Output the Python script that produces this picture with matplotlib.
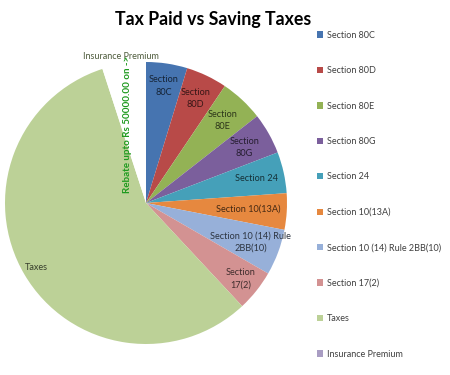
import matplotlib
matplotlib.use("Agg")
import matplotlib.pyplot as plt
import matplotlib.colors as mcolors
import numpy as np

categories = ["Section 80C", "Section 80D", "Section 80E", "Section 80G", "Section 24",
              "Section 10(13A)", "Section 10 (14) Rule 2BB(10)", "Section 17(2)", "Taxes",
              "Insurance Premium"]
slice_labels = ["Section\n80C", "Section\n80D", "Section\n80E", "Section\n80G", "Section 24",
                "Section 10(13A)", "Section 10 (14) Rule\n2BB(10)", "Section\n17(2)", "Taxes",
                "Insurance Premium"]
values = [17, 17, 18, 17, 17, 15, 19, 17, 205, 18]
colors = ["#4674b0", "#b84a48", "#93b255", "#7b5f9c", "#45a0b9", "#e6883f",
          "#97b0d9", "#d39292", "#bcd197", "#a99dc3"]
title = "Tax Paid vs Saving Taxes"
note = "Rebate upto Rs 50000.00 on ->"

plt.rcParams['font.family'] = ['Lato', 'DejaVu Sans']

fig = plt.figure(figsize=(4.5, 3.75), dpi=100)
ax = fig.add_axes([5/450, 31/375, 282/450, 282/375])

fills = list(colors)
fills[-1] = "white"  # Insurance Premium slice has no fill in the reference
wedges, _ = ax.pie(values, colors=fills, startangle=90, counterclock=False,
                   radius=1.0, wedgeprops=dict(linewidth=0))
ax.set_xlim(-1, 1)
ax.set_ylim(-1, 1)
ax.set_aspect('equal')
ax.axis('off')

label_r = [0.84, 0.82, 0.80, 0.80, 0.80, 0.73, 0.79, 0.86, 0.90, None]
total = sum(values)
cum = 0
for i, v in enumerate(values):
    mid = (cum + v / 2) / total * 360
    cum += v
    theta = np.deg2rad(90 - mid)
    if label_r[i] is None:
        continue
    c = np.array(mcolors.to_rgb(colors[i])) * 0.3
    ax.text(label_r[i] * np.cos(theta), label_r[i] * np.sin(theta), slice_labels[i],
            ha='center', va='center', fontsize=6.6, color=c, linespacing=1.5)

# Insurance Premium label outside
ax.text(-0.18, 1.04, "Insurance Premium", ha='center', va='center', fontsize=6.5,
        color="#4e5b3c")
ax.text(-0.13, 0.56, note, rotation=90, ha='center', va='center', fontsize=7.1,
        color="#1f9a1f", fontweight='bold')

fig.text(213/450, 1 - 20/375, title, ha='center', va='center', fontsize=12.8,
         fontweight='bold', color='black')

leg = fig.legend(wedges, categories, loc='upper left',
                 bbox_to_anchor=(313/450, 1 - 27/375), frameon=False,
                 fontsize=6.5, labelspacing=2.93, handlelength=0.7, handleheight=0.7,
                 handletextpad=0.4, borderaxespad=0)
for t in leg.get_texts():
    t.set_color("#404040")
# legend swatch for Insurance Premium uses its series colour
leg.legend_handles[-1].set_facecolor(colors[-1])

fig.savefig("out.png", dpi=100)
